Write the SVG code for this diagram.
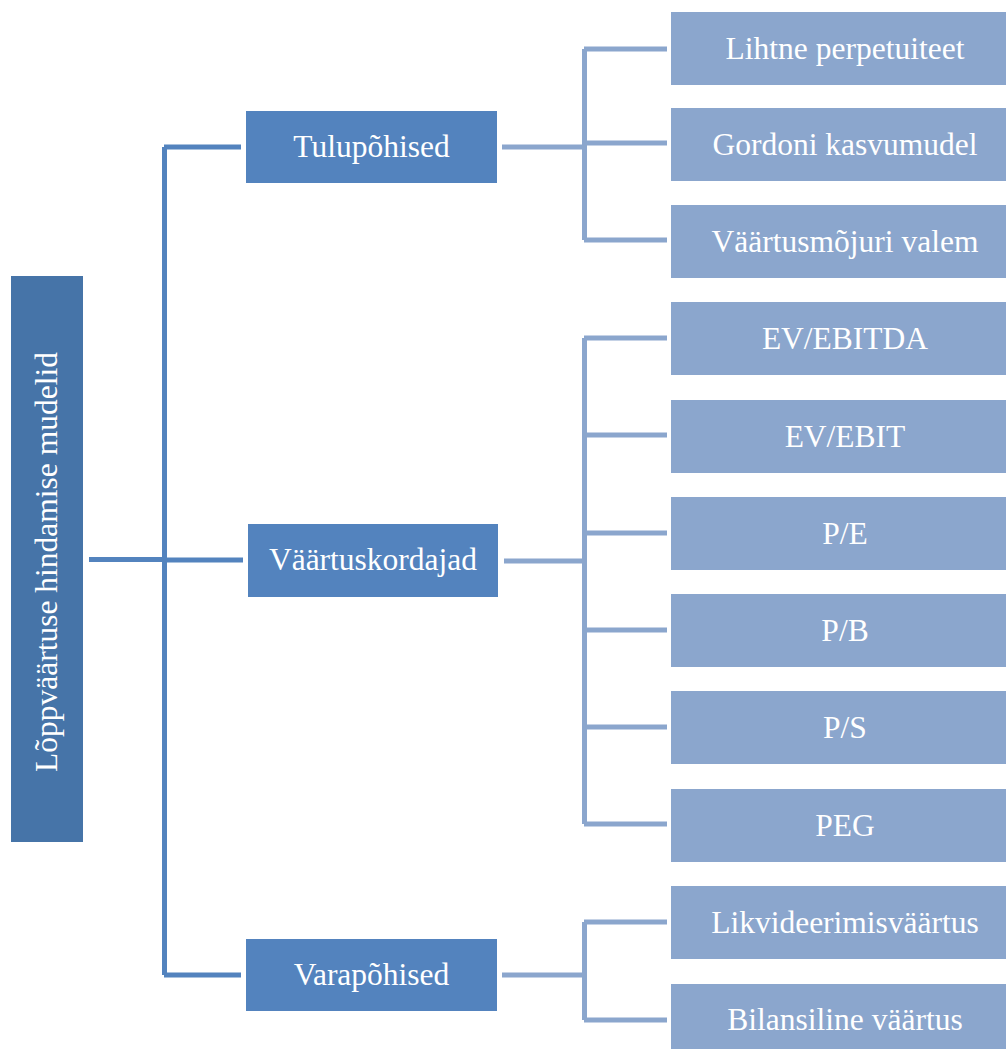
<svg xmlns="http://www.w3.org/2000/svg" width="1006" height="1049" viewBox="0 0 1006 1049">
<style>
text{font-family:"Liberation Serif","Times New Roman",serif;fill:#fff;font-size:31.5px;text-anchor:middle}
.root{fill:#4674A8}
.mid{fill:#5383BE}
.leaf{fill:#8BA6CD}
.c1{fill:none;stroke:#5383BE;stroke-width:5;stroke-linejoin:round}
.c2{fill:none;stroke:#8BA6CD;stroke-width:5;stroke-linejoin:round}
</style>
<rect width="1006" height="1049" fill="#fff"/>
<g id="connectors">
<path class="c1" d="M89 559.5H164.5M164.5 147V975M164 147H241M164 560H243M164 975H241"/>
<path class="c2" d="M502 147H584.5M584.5 49V240M584 49H667M584 143H667M584 240H667"/>
<path class="c2" d="M504 561H584.5M584.5 338V824M584 338H667M584 435H667M584 533H667M584 630H667M584 727H667M584 824H667"/>
<path class="c2" d="M502 975H584.5M584.5 922V1020M584 922H667M584 1020H667"/>
</g>
<g id="root"><rect class="root" x="11" y="276" width="72" height="566"/><text transform="translate(57 562) rotate(-90)">Lõppväärtuse hindamise mudelid</text></g>
<g id="tulupohised"><rect class="mid" x="246" y="111" width="251" height="72"/><text x="371.5" y="157">Tulupõhised</text></g>
<g id="vaartuskordajad"><rect class="mid" x="248" y="524" width="250" height="73"/><text x="373" y="570">Väärtuskordajad</text></g>
<g id="varapohised"><rect class="mid" x="246" y="939" width="251" height="72"/><text x="371.5" y="985">Varapõhised</text></g>
<g id="leaf1"><rect class="leaf" x="671" y="12" width="348" height="73"/><text x="845" y="59">Lihtne perpetuiteet</text></g>
<g id="leaf2"><rect class="leaf" x="671" y="108" width="348" height="73"/><text x="845" y="155">Gordoni kasvumudel</text></g>
<g id="leaf3"><rect class="leaf" x="671" y="205" width="348" height="73"/><text x="845" y="252">Väärtusmõjuri valem</text></g>
<g id="leaf4"><rect class="leaf" x="671" y="302" width="348" height="73"/><text x="845" y="349">EV/EBITDA</text></g>
<g id="leaf5"><rect class="leaf" x="671" y="400" width="348" height="73"/><text x="845" y="447">EV/EBIT</text></g>
<g id="leaf6"><rect class="leaf" x="671" y="497" width="348" height="73"/><text x="845" y="544">P/E</text></g>
<g id="leaf7"><rect class="leaf" x="671" y="594" width="348" height="73"/><text x="845" y="641">P/B</text></g>
<g id="leaf8"><rect class="leaf" x="671" y="691" width="348" height="73"/><text x="845" y="738">P/S</text></g>
<g id="leaf9"><rect class="leaf" x="671" y="789" width="348" height="73"/><text x="845" y="836">PEG</text></g>
<g id="leaf10"><rect class="leaf" x="671" y="886" width="348" height="73"/><text x="845" y="933">Likvideerimisväärtus</text></g>
<g id="leaf11"><rect class="leaf" x="671" y="984" width="348" height="73"/><text x="845" y="1030">Bilansiline väärtus</text></g>
</svg>
